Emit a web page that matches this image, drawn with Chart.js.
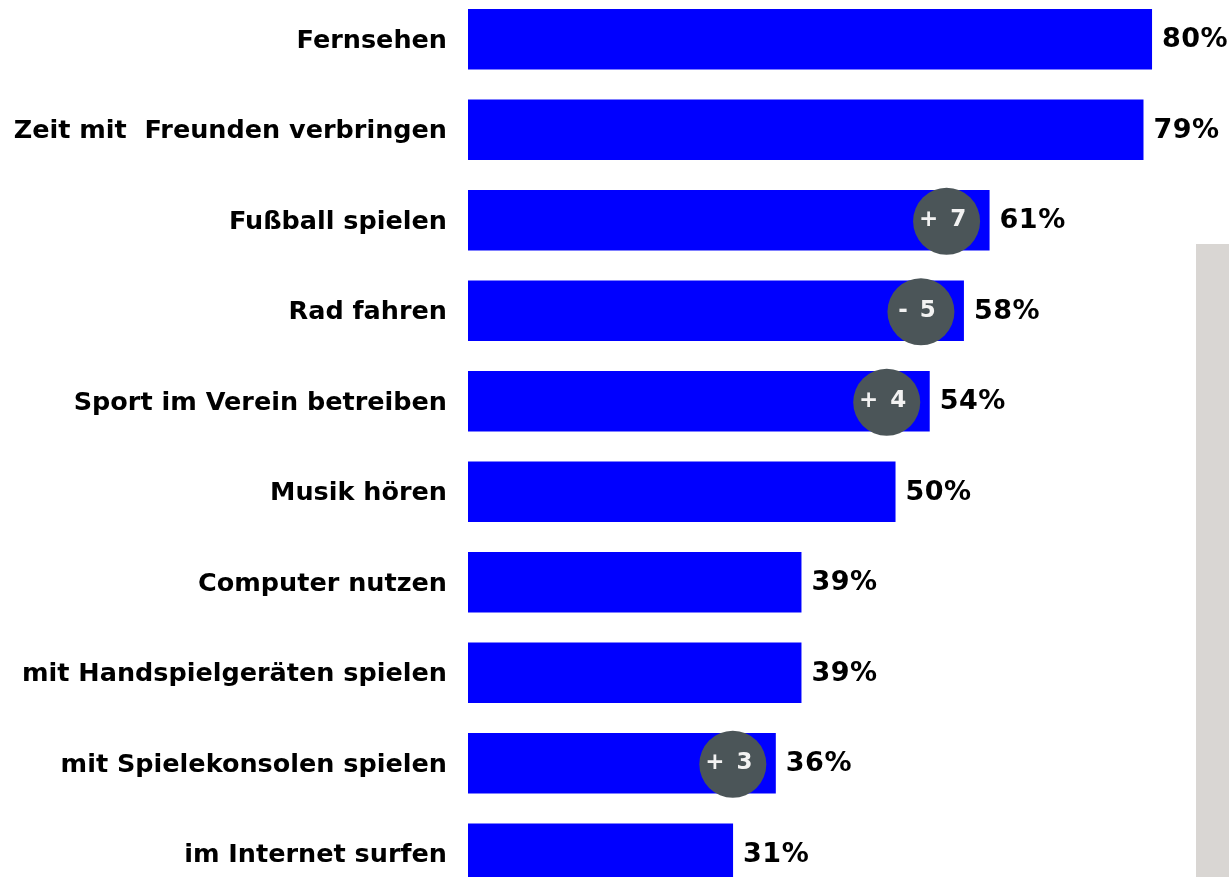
<!DOCTYPE html>
<html>
<head>
<meta charset="utf-8">
<script src="https://cdn.jsdelivr.net/npm/chart.js@4"></script>
<style>
  html, body { margin: 0; padding: 0; background: #fff; overflow: hidden; }
  body { width: 1229px; height: 877px; position: relative; }
  #side { position: absolute; left: 1196px; top: 244px; width: 33px; height: 633px; background: #d9d6d3; }
  #wrap { position: absolute; left: 0; top: -6px; width: 1229px; height: 905px; }
</style>
</head>
<body>
<div id="side"></div>
<div id="wrap"><canvas id="myChart"></canvas></div>
<script>
var categories = ['Fernsehen', 'Zeit mit  Freunden verbringen', 'Fußball spielen', 'Rad fahren',
    'Sport im Verein betreiben', 'Musik hören', 'Computer nutzen', 'mit Handspielgeräten spielen',
    'mit Spielekonsolen spielen', 'im Internet surfen'];
var values = [80, 79, 61, 58, 54, 50, 39, 39, 36, 31];
var changes = [null, null, '+ 7', '- 5', '+ 4', null, null, null, '+ 3', null];

var FONT = '"DejaVu Sans", Verdana, sans-serif';

// value labels and change bubbles
var labelPlugin = {
    id: 'labels',
    afterDatasetsDraw: function (chart) {
        var c = chart.ctx;
        var meta = chart.getDatasetMeta(0);
        c.save();
        meta.data.forEach(function (bar, i) {
            c.letterSpacing = '0.5px';
            c.fillStyle = '#000';
            c.font = 'bold 27px ' + FONT;
            c.textAlign = 'left';
            c.textBaseline = 'middle';
            c.fillText(values[i] + '%', bar.x + 10, bar.y + 1);
            if (changes[i]) {
                var cx = bar.x - 43;
                c.beginPath();
                c.arc(cx, bar.y + 1, 33.5, 0, Math.PI * 2);
                c.fillStyle = '#4b5558';
                c.fill();
                c.letterSpacing = '2px';
                c.fillStyle = '#f2f2f2';
                c.font = 'bold 23px ' + FONT;
                c.textAlign = 'center';
                c.fillText(changes[i], cx - 3, bar.y);
            }
        });
        c.restore();
    }
};

var ctx = document.getElementById('myChart').getContext('2d');

var myChart = new Chart(ctx, {
    type: 'bar',
    data: {
        labels: categories,
        datasets: [{
            data: values,
            backgroundColor: '#0000ff',
            borderWidth: 0,
            barPercentage: 0.668,
            categoryPercentage: 1
        }]
    },
    options: {
        indexAxis: 'y',
        responsive: true,
        maintainAspectRatio: false,
        animation: false,
        layout: { padding: 0 },
        plugins: { legend: { display: false }, tooltip: { enabled: false } },
        scales: {
            x: {
                min: 0,
                max: 89,
                display: false,
                grid: { display: false }
            },
            y: {
                grid: { display: false, drawTicks: false },
                border: { display: false },
                afterFit: function (scale) {
                    scale.width = 468;
                    scale.paddingTop = 0;
                    scale.paddingBottom = 0;
                },
                ticks: {
                    padding: 21,
                    labelOffset: 2,
                    color: '#000',
                    font: { family: FONT, size: 25.5, weight: 'bold' }
                }
            }
        }
    },
    plugins: [labelPlugin]
});
</script>
</body>
</html>
